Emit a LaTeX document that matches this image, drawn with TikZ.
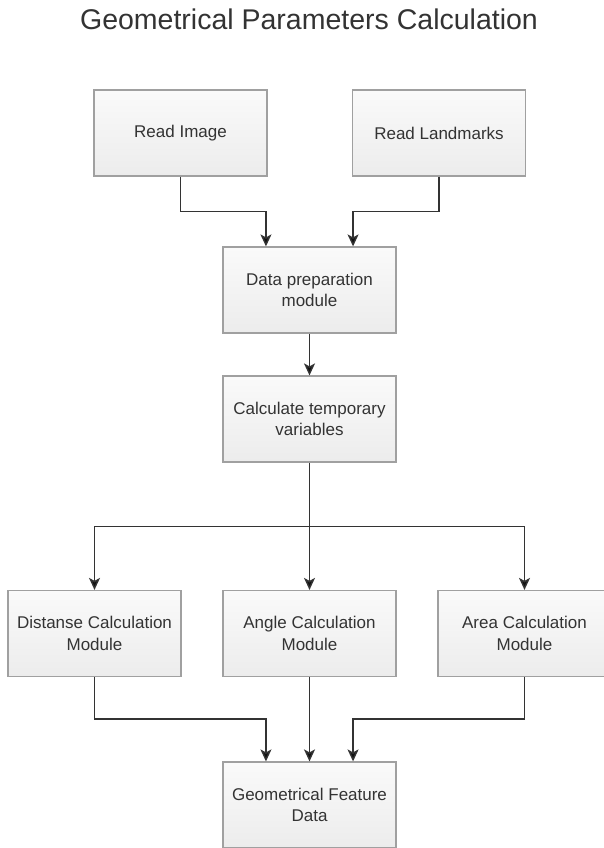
\documentclass[tikz,border=0pt]{standalone}
\usepackage{fontspec}
\setmainfont{Liberation Sans}
\usetikzlibrary{arrows.meta,calc}
\definecolor{boxtop}{HTML}{FAFAFA}
\definecolor{boxbot}{HTML}{ECECEC}
\definecolor{boxline}{HTML}{A0A0A0}
\definecolor{txtcol}{HTML}{333333}
\definecolor{wirecol}{HTML}{333333}
\definecolor{tipcol}{HTML}{111111}
\begin{document}
\begin{tikzpicture}[x=1pt,y=-1pt,
  block/.style={draw=boxline, line width=1.2pt, top color=boxtop, bottom color=boxbot,
    minimum width=173pt, minimum height=86pt, inner sep=0pt, align=center,
    text=txtcol, font=\fontsize{17}{21.5}\selectfont},
  wire/.style={draw=wirecol, line width=1.4pt, -{Stealth[length=12pt,width=11pt,inset=3pt,fill=tipcol]}}]
\useasboundingbox (0,0) rectangle (604,848);
\fill[white] (0,0) rectangle (604,848);
\node[text=txtcol, font=\fontsize{28.5}{32}\selectfont, anchor=base, inner sep=0pt] (title) at (309,30) {Geometrical Parameters Calculation};

\node[block] (img) at (180.5,133) {Read Image};
\node[block] (lmk) at (439,133) {Read Landmarks};
\node[block] (prep) at (309.5,290) {Data preparation\\module};
\node[block] (calc) at (309.5,419) {Calculate temporary\\variables};
\node[block] (dist) at (94.5,633.5) {Distanse Calculation\\Module};
\node[block] (ang) at (309.5,633.5) {Angle Calculation\\Module};
\node[block] (area) at (524.5,633.5) {Area Calculation\\Module};
\node[block] (geo) at (309.5,805) {Geometrical Feature\\Data};

\coordinate (prepL) at ($(prep.north west)!0.25!(prep.north east)$);
\coordinate (prepR) at ($(prep.north west)!0.75!(prep.north east)$);
\coordinate (geoL) at ($(geo.north west)!0.25!(geo.north east)$);
\coordinate (geoR) at ($(geo.north west)!0.75!(geo.north east)$);

\draw[wire] (img.south) -- ++(0,35) -| (prepL);
\draw[wire] (lmk.south) -- ++(0,35) -| (prepR);
\draw[wire] (prep.south) -- (calc.north);
\draw[wire] (calc.south) -- (ang.north);
\draw[wire] (calc.south) ++(0,64) -| (dist.north);
\draw[wire] (calc.south) ++(0,64) -| (area.north);
\draw[wire] (dist.south) -- ++(0,42) -| (geoL);
\draw[wire] (area.south) -- ++(0,42) -| (geoR);
\draw[wire] (ang.south) -- (geo.north);
\end{tikzpicture}
\end{document}
